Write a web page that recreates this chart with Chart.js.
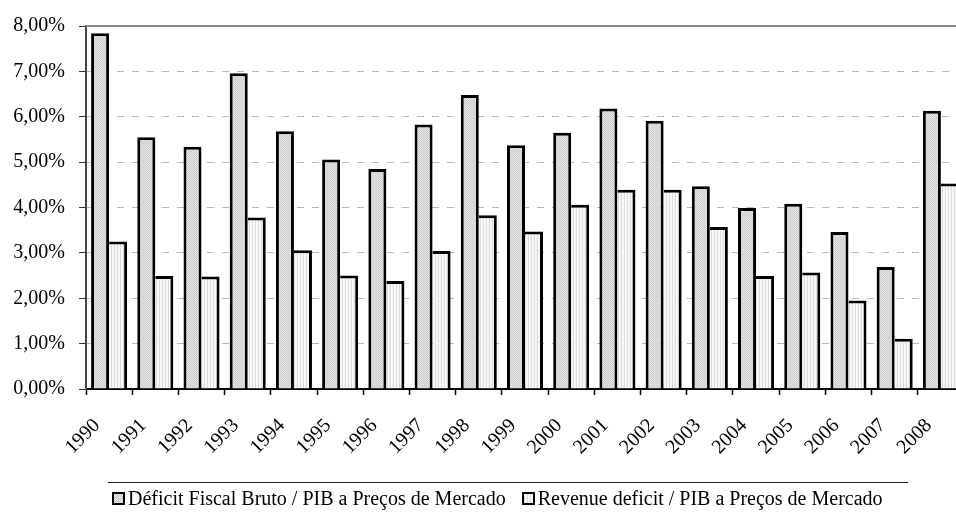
<!DOCTYPE html>
<html>
<head>
<meta charset="utf-8">
<script src="https://cdn.jsdelivr.net/npm/chart.js@4/dist/chart.umd.min.js"></script>
<style>
  html, body { margin: 0; padding: 0; background: #fff; width: 956px; height: 516px; overflow: hidden; }
  #wrap { position: absolute; left: 0; top: 0; width: 964px; height: 516px; }
  #legend {
    position: absolute; left: 108px; top: 482px; width: 800px; height: 40px;
    border-top: 1px solid #222; box-sizing: border-box;
    font-family: "Liberation Serif", "Times New Roman", serif; font-size: 20px; color: #000;
    display: flex; align-items: baseline; padding: 3px 0 0 4px; line-height: 24px; white-space: nowrap;
  }
  #legend .item { display: flex; align-items: center; margin-right: 16px; }
  #legend .box { width: 9px; height: 9px; border: 2px solid #000; margin-right: 3px; }
</style>
</head>
<body>
<div id="wrap"><canvas id="c" width="964" height="516"></canvas></div>
<div id="legend"></div>
<script>
// Years on the category axis
const years = ['1990','1991','1992','1993','1994','1995','1996','1997','1998','1999',
               '2000','2001','2002','2003','2004','2005','2006','2007','2008'];

// Gross fiscal deficit as % of GDP at market prices
const deficitBruto = [7.84, 5.55, 5.34, 6.96, 5.68, 5.06, 4.85, 5.83, 6.48, 5.37,
                      5.65, 6.18, 5.91, 4.47, 3.99, 4.08, 3.46, 2.69, 6.13];

// Revenue deficit as % of GDP at market prices
const revenueDeficit = [3.25, 2.49, 2.48, 3.78, 3.06, 2.50, 2.38, 3.04, 3.83, 3.47,
                        4.06, 4.39, 4.39, 3.57, 2.49, 2.57, 1.95, 1.11, 4.53];

const seriesNames = ['Déficit Fiscal Bruto / PIB a Preços de Mercado',
                     'Revenue deficit / PIB a Preços de Mercado'];

const yTicks = [0, 1, 2, 3, 4, 5, 6, 7, 8];

const SERIF = '"Liberation Serif", "Times New Roman", serif';

// Small fill textures, like the hatched fills of a printed chart
function makeTile(w, h, draw) {
  const t = document.createElement('canvas');
  t.width = w; t.height = h;
  draw(t.getContext('2d'));
  return t;
}
const grayTile = makeTile(4, 4, g => {
  g.fillStyle = '#e4e4e4'; g.fillRect(0, 0, 4, 4);
  g.fillStyle = '#cecece';
  [[0,0],[1,1],[2,2],[3,3],[2,0],[3,1],[0,2],[1,3]].forEach(([x, y]) => g.fillRect(x, y, 1, 1));
});
const lightTile = makeTile(3, 2, g => {
  g.fillStyle = '#fbfbfb'; g.fillRect(0, 0, 3, 2);
  g.fillStyle = '#d2d2d2'; g.fillRect(0, 0, 1, 1);
  g.fillStyle = '#e6e6e6'; g.fillRect(0, 1, 1, 1);
  g.fillStyle = '#eeeeee'; g.fillRect(2, 1, 1, 1);
});
const ctx = document.getElementById('c').getContext('2d');
const grayFill = ctx.createPattern(grayTile, 'repeat');
const lightFill = ctx.createPattern(lightTile, 'repeat');

const fmtPct = v => v.toFixed(2).replace('.', ',') + '%';

// Plot-area top edge
const frame = {
  id: 'frame',
  beforeDatasetsDraw(chart) {
    const a = chart.chartArea, c = chart.ctx;
    c.save();
    c.strokeStyle = '#8a8a8a';
    c.lineWidth = 2;
    c.beginPath();
    c.moveTo(a.left, a.top);
    c.lineTo(a.right, a.top);
    c.stroke();
    c.restore();
  }
};

new Chart(ctx, {
  type: 'bar',
  data: {
    labels: years,
    datasets: [
      {
        label: seriesNames[0], data: deficitBruto,
        backgroundColor: grayFill, borderColor: '#000',
        borderWidth: { top: 3, left: 3, right: 3, bottom: 0 }, borderSkipped: false
      },
      {
        label: seriesNames[1], data: revenueDeficit,
        backgroundColor: lightFill, borderColor: '#000',
        borderWidth: { top: 3, left: 0, right: 3, bottom: 0 }, borderSkipped: false
      }
    ]
  },
  options: {
    responsive: false,
    devicePixelRatio: 1,
    animation: false,
    categoryPercentage: 0.78,
    barPercentage: 1.0,
    layout: { padding: { top: 21, left: 0, right: 0, bottom: 0 } },
    plugins: { legend: { display: false }, tooltip: { enabled: false } },
    scales: {
      x: {
        offset: true,
        grid: { drawOnChartArea: false, drawTicks: true, tickLength: 6, tickColor: '#000', tickWidth: 1.5, offset: true },
        border: { display: true, color: '#000', width: 2 },
        ticks: {
          color: '#000', font: { family: SERIF, size: 20 },
          minRotation: 45, maxRotation: 45, padding: 19, labelOffset: -12, autoSkip: false
        },
        afterFit(s) { s.height = 127; s.paddingLeft = 0; s.paddingRight = 0; }
      },
      y: {
        min: 0, max: 8,
        afterBuildTicks(s) { s.ticks = yTicks.map(v => ({ value: v })); },
        grid: {
          color: c => (c.tick && (c.tick.value === 0 || c.tick.value === 8)) ? 'rgba(0,0,0,0)' : '#b8b8b8',
          lineWidth: 1, drawTicks: true, tickLength: 7, tickColor: '#333', tickWidth: 1, tickBorderDash: []
        },
        border: { display: true, color: '#444', width: 2, dash: [7, 8] },
        ticks: { color: '#000', font: { family: SERIF, size: 20 }, padding: 14, callback: v => fmtPct(v) },
        afterFit(s) { s.width = 86; }
      }
    }
  },
  plugins: [frame]
});

// Legend row
const legend = document.getElementById('legend');
[[seriesNames[0], grayTile], [seriesNames[1], lightTile]].forEach(([name, tile]) => {
  const item = document.createElement('span');
  item.className = 'item';
  const box = document.createElement('span');
  box.className = 'box';
  box.style.backgroundImage = 'url(' + tile.toDataURL() + ')';
  const txt = document.createElement('span');
  txt.textContent = name;
  item.appendChild(box);
  item.appendChild(txt);
  legend.appendChild(item);
});
</script>
</body>
</html>
